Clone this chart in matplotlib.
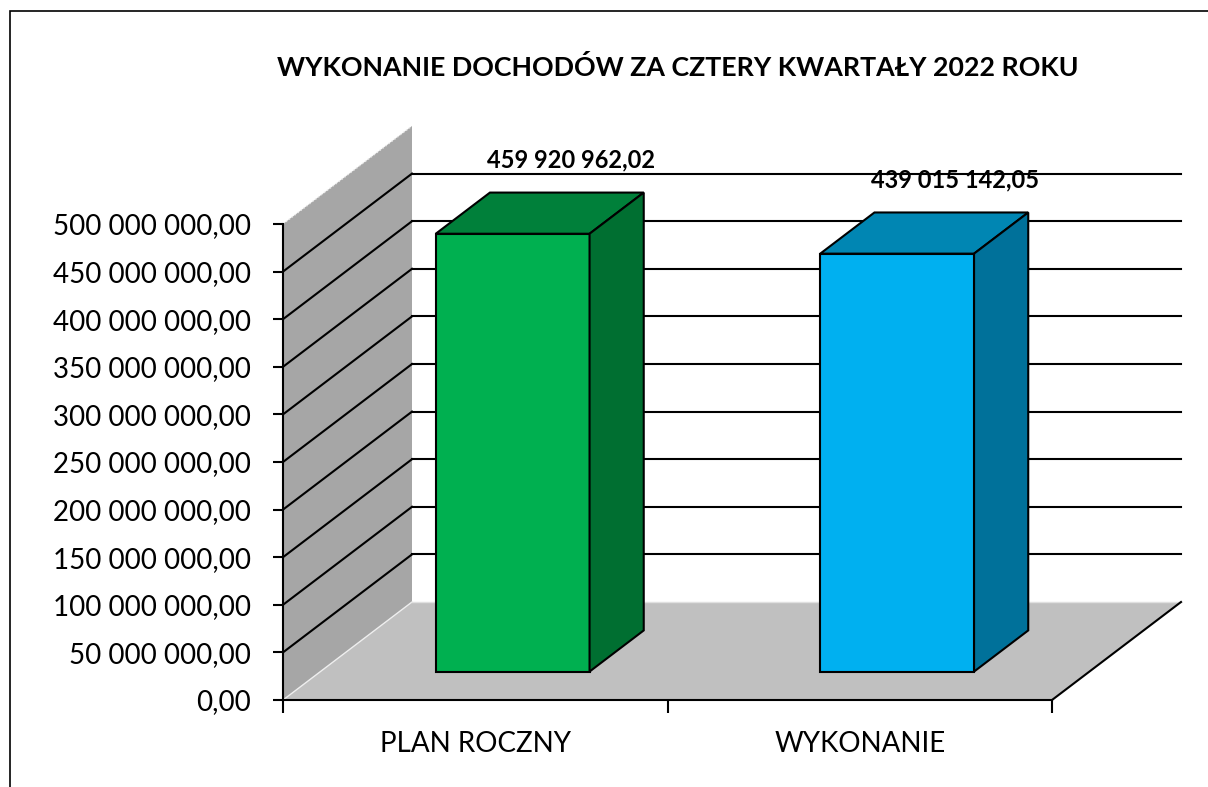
import matplotlib.pyplot as plt
from matplotlib.patches import Polygon, Rectangle
from matplotlib.ticker import FuncFormatter, MultipleLocator

# data
categories = ['PLAN ROCZNY', 'WYKONANIE']
values = [459920962.02, 439015142.05]
labels = ['459 920 962,02', '439 015 142,05']
title = 'WYKONANIE DOCHODÓW ZA CZTERY KWARTAŁY 2022 ROKU'

front_cols = ['#00B050', '#00B0F0']
top_cols = ['#00803A', '#0086B3']
side_cols = ['#006F31', '#00719A']

plt.rcParams['font.family'] = ['Lato', 'DejaVu Sans']

fig = plt.figure(figsize=(12.08, 7.87), dpi=100)
ax = fig.add_axes([283 / 1208, 1 - 700 / 787, 769 / 1208, 476 / 787])
ax.set_xlim(0, 2)
ax.set_ylim(0, 500e6)

# oblique depth offsets (data units)
dx = 129 / 384.5
dy = 98 / 0.952 * 1e6
ymax = 500e6

# left wall
ax.add_patch(Polygon([(0, 0), (dx, dy), (dx, ymax + dy), (0, ymax)],
                     closed=True, facecolor='#A6A6A6', edgecolor='none', zorder=1, clip_on=False))
ax.plot([0, dx], [ymax, ymax + dy], color='#E8E8E8', lw=1, ls=':', zorder=2, clip_on=False)
# floor
ax.add_patch(Polygon([(0, 0), (dx, dy), (2 + dx, dy), (2, 0)],
                     closed=True, facecolor='#C0C0C0', edgecolor='none', zorder=1, clip_on=False))
ax.plot([0, dx], [0, dy], color='#EEEEEE', lw=1, zorder=2, clip_on=False)
ax.plot([dx, 2 + dx], [dy, dy], color='#E0E0E0', lw=1, zorder=2, clip_on=False)
ax.plot([2, 2 + dx], [0, dy], color='black', lw=1.5, zorder=2, clip_on=False)

# gridlines on side and back walls
for v in range(50, 500, 50):
    v = v * 1e6
    ax.plot([0, dx], [v, v + dy], color='black', lw=1.5, zorder=2, clip_on=False)
    ax.plot([dx, 2 + dx], [v + dy, v + dy], color='black', lw=1.5, zorder=2, clip_on=False)

# 3D bars
w = 0.4
s, e = 0.29, 0.71
for i, v in enumerate(values):
    x0 = i + 0.5 - w / 2
    x1 = i + 0.5 + w / 2
    kw = dict(closed=True, edgecolor='black', lw=1.5, zorder=5, clip_on=False)
    ax.add_patch(Polygon([(x0 + s * dx, s * dy), (x1 + s * dx, s * dy),
                          (x1 + s * dx, v + s * dy), (x0 + s * dx, v + s * dy)],
                         facecolor=front_cols[i], **kw))
    ax.add_patch(Polygon([(x0 + s * dx, v + s * dy), (x1 + s * dx, v + s * dy),
                          (x1 + e * dx, v + e * dy), (x0 + e * dx, v + e * dy)],
                         facecolor=top_cols[i], **kw))
    ax.add_patch(Polygon([(x1 + s * dx, s * dy), (x1 + e * dx, e * dy),
                          (x1 + e * dx, v + e * dy), (x1 + s * dx, v + s * dy)],
                         facecolor=side_cols[i], **kw))
    ax.text(i + 0.5 + e * dx + 0.01, v + e * dy + 34e6, labels[i], ha='center', va='center',
            fontsize=17, fontweight='bold', zorder=6, clip_on=False)

# axes styling
for sp in ['top', 'right']:
    ax.spines[sp].set_visible(False)
for sp in ['left', 'bottom']:
    ax.spines[sp].set_linewidth(1.5)
    ax.spines[sp].set_zorder(4)
ax.patch.set_visible(False)

ax.yaxis.set_major_locator(MultipleLocator(50e6))
ax.yaxis.set_major_formatter(FuncFormatter(
    lambda v, p: f'{v:,.2f}'.replace(',', ' ').replace('.', ',')))
ax.tick_params(axis='y', direction='out', length=7, width=1.5, labelsize=20, pad=16)

ax.set_xticks([0.5, 1.5])
ax.set_xticklabels(categories)
ax.set_xticks([0, 1, 2], minor=True)
ax.tick_params(axis='x', which='major', length=0, labelsize=20, pad=22)
ax.tick_params(axis='x', which='minor', direction='out', length=9, width=1.5)

fig.text(678 / 1208, 1 - 68 / 787, title, ha='center', va='center',
         fontsize=19.3, fontweight='bold')

# chart frame
fig.patches.append(Rectangle((10 / 1208, -0.1), 1.2, 1.1 - 11 / 787,
                             transform=fig.transFigure, fill=False,
                             edgecolor='black', lw=1.2))

fig.savefig('out.png', dpi=100)
